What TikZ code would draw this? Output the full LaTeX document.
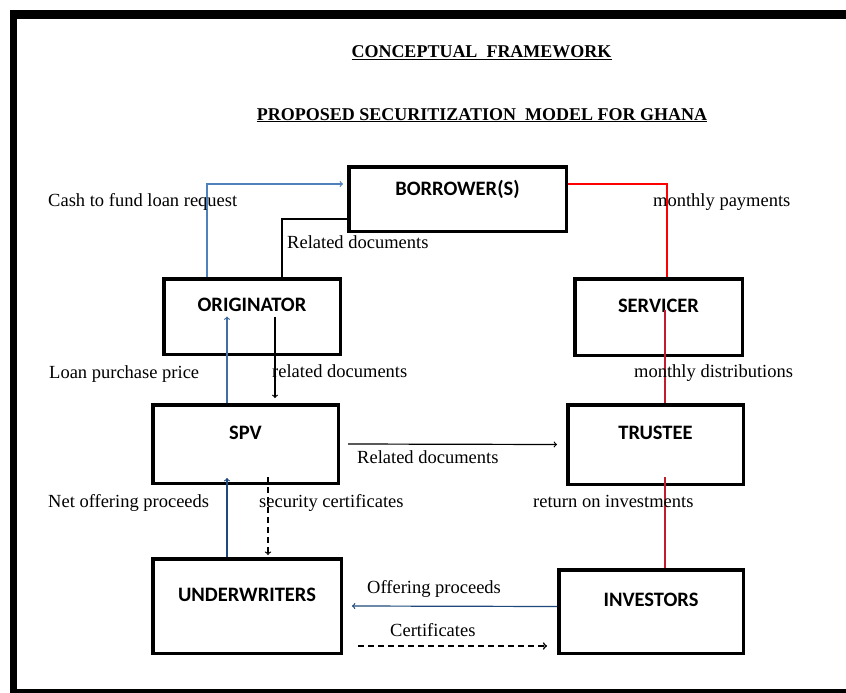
\documentclass[tikz,border=0pt]{standalone}
\usepackage{xcolor}
\usepackage{fontspec}
\setmainfont{Liberation Serif}
\newfontfamily\boxfont{Carlito}
\usepackage{tikz}
\usetikzlibrary{calc}

\definecolor{cashblue}{RGB}{79,129,189}
\definecolor{navyblue}{RGB}{31,73,125}
\definecolor{darkred}{RGB}{190,30,45}

\tikzset{
  firmbox/.style={draw, line width=3.5pt, inner sep=0pt, text depth=23pt,
    font=\boxfont\bfseries\fontsize{20.5}{24}\selectfont},
  flowtext/.style={anchor=mid west, inner sep=0pt, font=\fontsize{18.5}{22}\selectfont},
  titletext/.style={anchor=base, inner sep=0pt, font=\bfseries\fontsize{18}{21}\selectfont},
  flowline/.style={line width=1.2pt},
  certline/.style={line width=1.6pt, dash pattern=on 6pt off 4pt},
}

\begin{document}
\begin{tikzpicture}[x=1pt,y=-1pt]
                        \useasboundingbox (0,0) rectangle (846,693);
                        {
                        % Drawing frame
                        \fill (10,10) rectangle (846,19);
                        \fill (10,10) rectangle (17,693);
                        \fill (10,689) rectangle (846,693);

                        % Writing titles
                        \node[titletext] (head) at (481.5,58) {\underline{CONCEPTUAL\ \ FRAMEWORK}};
                        \node[titletext] (model) at (482,120) {\underline{PROPOSED SECURITIZATION\ \ MODEL FOR GHANA}};

                        % Drawing boxes
                        \node[firmbox, minimum width=217.5pt, minimum height=64.5pt] (borr) at (457.5,199) {BORROWER(S)};
                        \node[firmbox, minimum width=176.5pt, minimum height=75.5pt] (orig) at (252,316.5) {ORIGINATOR};
                        \node[firmbox, minimum width=167.5pt, minimum height=76.5pt] (serv) at (658.5,317) {SERVICER};
                        \node[firmbox, minimum width=185.5pt, minimum height=78.5pt] (spv) at (245.5,444) {SPV};
                        \node[firmbox, minimum width=175.5pt, minimum height=79.5pt] (trus) at (655.5,444.5) {TRUSTEE};
                        \node[firmbox, minimum width=188.5pt, minimum height=94.5pt] (undw) at (247,606) {UNDERWRITERS};
                        \node[firmbox, minimum width=184.5pt, minimum height=83.5pt] (inv) at (651,611.5) {INVESTORS};

                        % Columns of the vertical lines
                        \coordinate (redx) at (665,0);
                        \coordinate (leftx) at (227,0);
                        \coordinate (docx) at (275,0);
                        \coordinate (certx) at (268,0);

                        % Drawing arrow orig borr
                        \draw[flowline, cashblue, ->] ([xshift=45pt]orig.north west) |- ([xshift=-4pt,yshift=-19pt]borr.north west);%
                        % Drawing line borr orig
                        \draw[flowline] ([yshift=14pt]borr.south west) -| ([xshift=120pt]orig.north west);%
                        % Drawing line borr serv trus inv
                        \draw[flowline, red] ([yshift=-19pt]borr.north east) -| ([xshift=2pt]serv.north -| redx);%
                        \draw[flowline, darkred] ([yshift=7pt]serv.center -| redx) -- (trus.north -| redx);%
                        \draw[flowline, darkred] ([yshift=9pt]trus.south -| redx) -- (inv.north -| redx);%

                        % Drawing arrow spv orig
                        \draw[flowline, cashblue!85!black, ->] (spv.north -| leftx) -- (orig.center -| leftx);%
                        % Drawing arrow orig spv
                        \draw[flowline, ->] (orig.center -| docx) -- ([yshift=5pt]spv.north -| docx);%
                        % Drawing arrow spv trus
                        \draw[flowline, ->] ([xshift=8pt]spv.east) -- ([xshift=-9pt]trus.west);%
                        % Drawing arrow undw spv
                        \draw[flowline, navyblue, ->] (undw.north -| leftx) -- ([yshift=7pt]spv.south -| leftx);%
                        % Drawing dashed arrow spv undw
                        \draw[certline, line width=1.3pt, ->] ([yshift=8pt]spv.south -| certx) -- ([yshift=2pt]undw.north -| certx);%
                        % Drawing arrow inv undw
                        \draw[flowline, navyblue, ->] ([yshift=5pt]inv.west) -- ([xshift=9pt]undw.east);%
                        % Drawing dashed arrow undw inv
                        \draw[certline, ->] ([xshift=15pt,yshift=-40pt]undw.east) -- ([xshift=-10pt,yshift=-34.5pt]inv.west);%

                        % Marking labels
                        \node[flowtext] (cashlbl) at (48,204) {Cash to fund loan request};
                        \node[flowtext] (reldoca) at (287,246) {Related documents};
                        \node[flowtext] (paylbl) at (653,204) {monthly payments};
                        \node[flowtext] (pricelbl) at (49,376) {Loan purchase price};
                        \node[flowtext] (reldocb) at (272,375) {related documents};
                        \node[flowtext] (distlbl) at (634,375) {monthly distributions};
                        \node[flowtext] (reldocc) at (357,461) {Related documents};
                        \node[flowtext] (netlbl) at (48,505) {Net offering proceeds};
                        \node[flowtext] (seclbl) at (259,505) {security\ certificates};
                        \node[flowtext] (retlbl) at (533,505) {return on investments};
                        \node[flowtext] (offerlbl) at (367,591) {Offering proceeds};
                        \node[flowtext] (certlbl) at (390,634) {Certificates};
                        }
\end{tikzpicture}
\end{document}
